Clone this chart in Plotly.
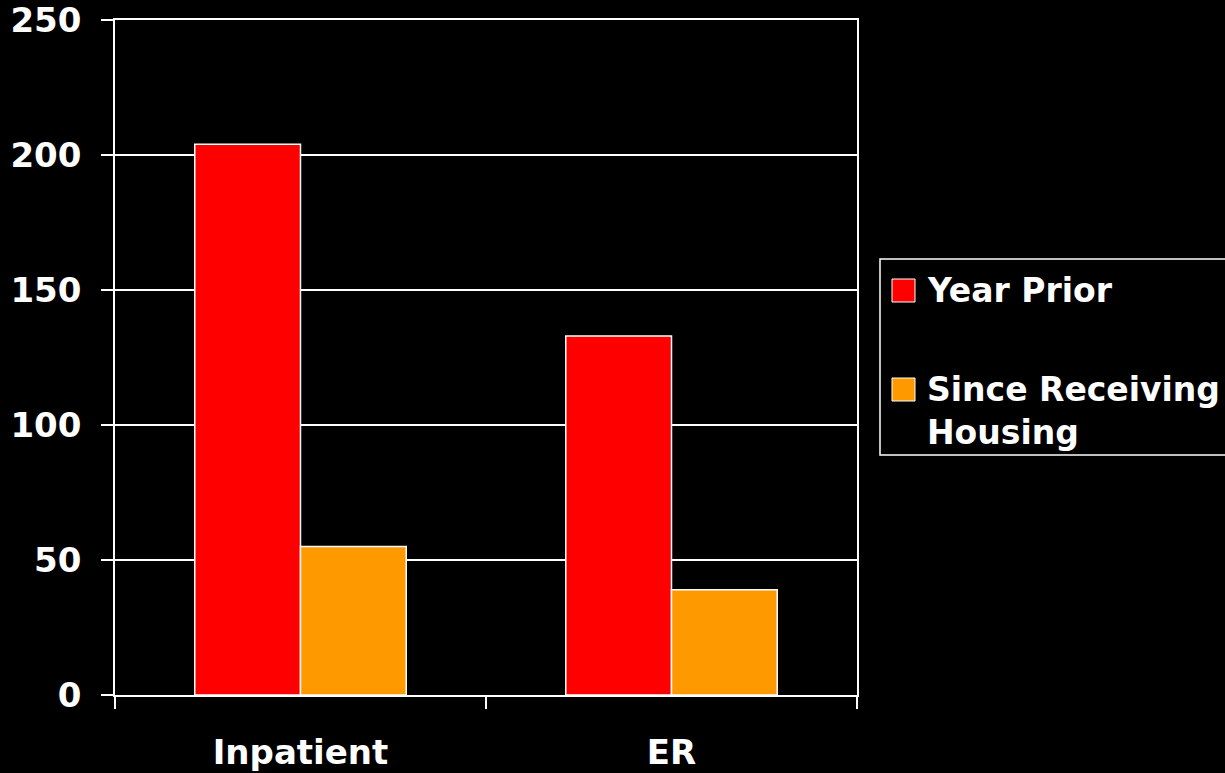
import plotly.graph_objects as go

categories = ["Inpatient", "ER"]
year_prior = [204, 133]
since_housing = [55, 39]
series_names = ["Year Prior", "Since Receiving<br>Housing"]
series_colors = ["#FF0000", "#FF9900"]
y_ticks = [0, 50, 100, 150, 200, 250]

FONT = "DejaVu Sans"
WHITE = "#FFFFFF"
W, H = 1225, 773
L, R, T, B = 115, 368, 20, 78
PW, PH = W - L - R, H - T - B


def px_x(x):
    return (x - L) / PW


def px_y(y):
    return (H - B - y) / PH


fig = go.Figure()
for name, vals, col in zip(series_names, [year_prior, since_housing], series_colors):
    fig.add_trace(go.Bar(
        x=categories, y=vals, name=name, showlegend=False,
        marker=dict(color=col, line=dict(color=WHITE, width=1.5)),
    ))

# legend box drawn with shapes and text
shapes = [dict(type="rect", xref="paper", yref="paper",
               x0=px_x(880), x1=px_x(1240), y0=px_y(455), y1=px_y(259),
               line=dict(color=WHITE, width=1.5), fillcolor="black", layer="below")]
annotations = []
legend_rows = [(279, 290), (378, 411)]
for (sq_top, text_mid), name, col in zip(legend_rows, series_names, series_colors):
    shapes.append(dict(type="rect", xref="paper", yref="paper",
                       x0=px_x(892), x1=px_x(915), y0=px_y(sq_top + 23), y1=px_y(sq_top),
                       line=dict(color=WHITE, width=1), fillcolor=col))
    annotations.append(dict(xref="paper", yref="paper", x=px_x(925), y=px_y(text_mid),
                            xanchor="left", yanchor="middle", align="left",
                            text=name, showarrow=False,
                            font=dict(family=FONT, size=33, color=WHITE, weight="bold")))

fig.update_layout(
    width=W, height=H,
    margin=dict(l=L, r=R, t=T, b=B),
    paper_bgcolor="black", plot_bgcolor="black",
    barmode="group", bargap=0.43, bargroupgap=0,
    font=dict(family=FONT, color=WHITE, size=34),
    shapes=shapes, annotations=annotations,
    showlegend=False,
)
fig.update_xaxes(
    automargin=False,
    showline=True, linecolor=WHITE, linewidth=1.5, mirror=True,
    ticks="outside", tickson="boundaries", ticklen=12, tickcolor=WHITE, tickwidth=1.5,
    tickfont=dict(family=FONT, size=34, color=WHITE, weight="bold"),
    ticklabelstandoff=26,
    showgrid=False,
)
fig.update_yaxes(
    automargin=False, ticklabeloverflow="allow",
    range=[0, 250], tickvals=y_ticks,
    showline=True, linecolor=WHITE, linewidth=1.5, mirror=True,
    showgrid=True, gridcolor=WHITE, gridwidth=1.5, zeroline=False,
    ticks="outside", ticklen=12, tickcolor=WHITE, tickwidth=1.5,
    tickfont=dict(family=FONT, size=34, color=WHITE, weight="bold"),
    ticklabelstandoff=13,
)

fig.write_html("out.html")
